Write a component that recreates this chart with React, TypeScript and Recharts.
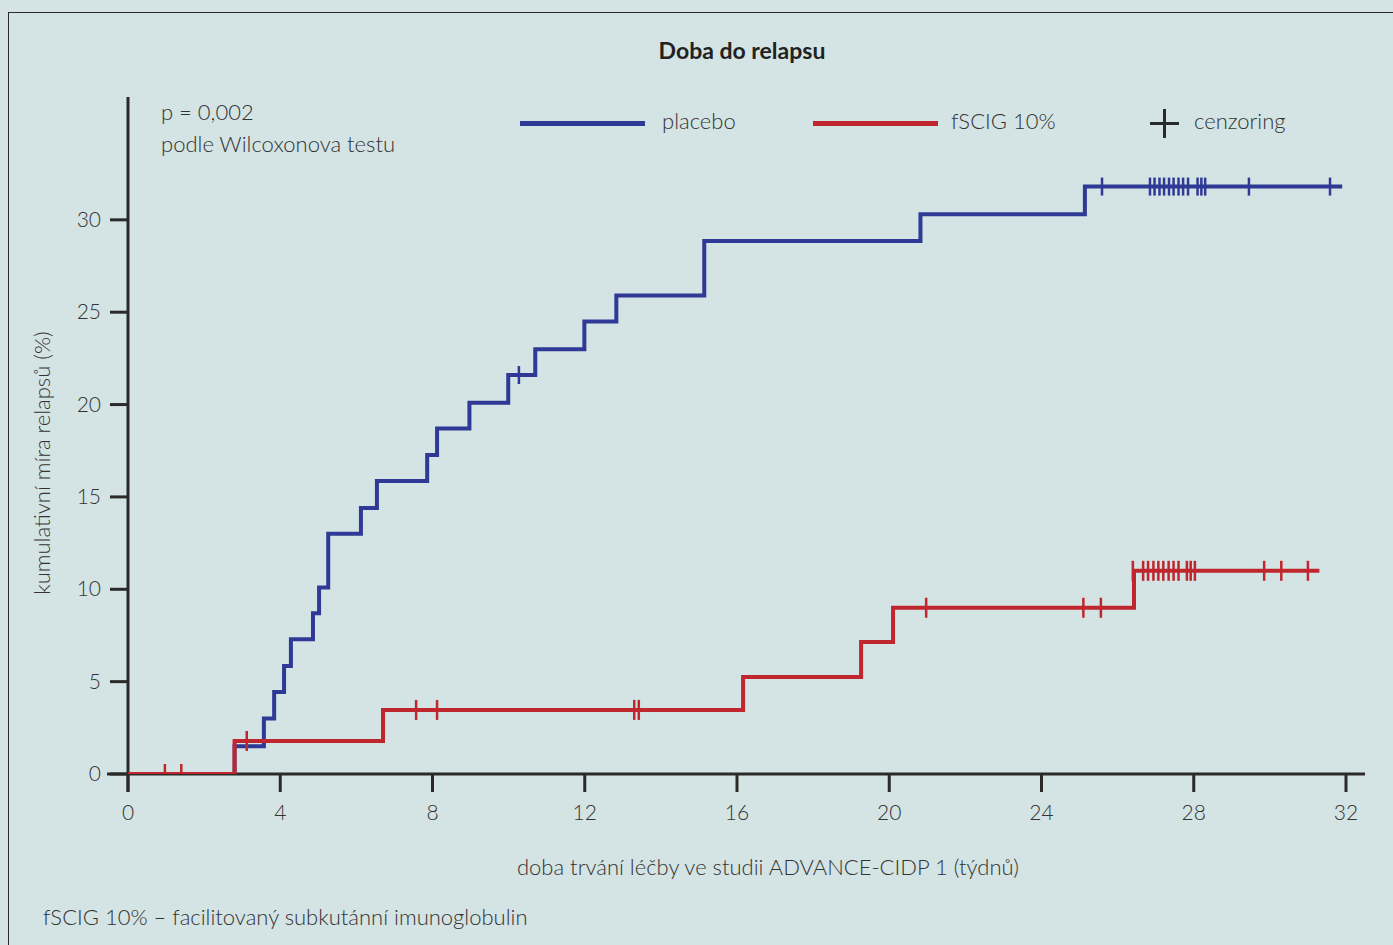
import React from "react";
import {
  ComposedChart,
  Line,
  Scatter,
  XAxis,
  YAxis,
  ReferenceLine,
} from "recharts";

const placeboSteps = [
  { t: 0, y: 0 },
  { t: 2.8, y: 1.5 },
  { t: 3.57, y: 3.0 },
  { t: 3.84, y: 4.44 },
  { t: 4.1, y: 5.85 },
  { t: 4.28, y: 7.3 },
  { t: 4.86, y: 8.7 },
  { t: 5.02, y: 10.1 },
  { t: 5.26, y: 13.0 },
  { t: 6.12, y: 14.4 },
  { t: 6.54, y: 15.86 },
  { t: 7.86, y: 17.27 },
  { t: 8.12, y: 18.7 },
  { t: 8.97, y: 20.1 },
  { t: 9.99, y: 21.6 },
  { t: 10.7, y: 23.0 },
  { t: 11.99, y: 24.5 },
  { t: 12.83, y: 25.9 },
  { t: 15.14, y: 28.86 },
  { t: 20.82, y: 30.3 },
  { t: 25.14, y: 31.8 },
  { t: 31.9, y: 31.8 },
];

const fscigSteps = [
  { t: 0, y: 0 },
  { t: 2.8, y: 1.79 },
  { t: 6.7, y: 3.47 },
  { t: 16.16, y: 5.25 },
  { t: 19.26, y: 7.15 },
  { t: 20.1, y: 9.0 },
  { t: 26.43, y: 11.0 },
  { t: 31.3, y: 11.0 },
];

const placeboCensored = [
  { t: 10.27, y: 21.6 },
  { t: 25.59, y: 31.8 },
  { t: 26.85, y: 31.8 },
  { t: 26.97, y: 31.8 },
  { t: 27.1, y: 31.8 },
  { t: 27.22, y: 31.8 },
  { t: 27.35, y: 31.8 },
  { t: 27.47, y: 31.8 },
  { t: 27.6, y: 31.8 },
  { t: 27.72, y: 31.8 },
  { t: 27.85, y: 31.8 },
  { t: 28.1, y: 31.8 },
  { t: 28.2, y: 31.8 },
  { t: 28.3, y: 31.8 },
  { t: 29.45, y: 31.8 },
  { t: 31.58, y: 31.8 },
];

const fscigCensored = [
  { t: 0.97, y: 0 },
  { t: 1.4, y: 0 },
  { t: 3.12, y: 1.79 },
  { t: 7.57, y: 3.47 },
  { t: 8.12, y: 3.47 },
  { t: 13.3, y: 3.47 },
  { t: 13.42, y: 3.47 },
  { t: 20.97, y: 9.0 },
  { t: 25.1, y: 9.0 },
  { t: 25.56, y: 9.0 },
  { t: 26.4, y: 11.0 },
  { t: 26.67, y: 11.0 },
  { t: 26.8, y: 11.0 },
  { t: 26.94, y: 11.0 },
  { t: 27.07, y: 11.0 },
  { t: 27.2, y: 11.0 },
  { t: 27.34, y: 11.0 },
  { t: 27.47, y: 11.0 },
  { t: 27.6, y: 11.0 },
  { t: 27.82, y: 11.0 },
  { t: 27.92, y: 11.0 },
  { t: 28.03, y: 11.0 },
  { t: 29.85, y: 11.0 },
  { t: 30.3, y: 11.0 },
  { t: 31.0, y: 11.0 },
];

const xTicks = [0, 4, 8, 12, 16, 20, 24, 28, 32];
const yTicks = [0, 5, 10, 15, 20, 25, 30];

const BLUE = "#2f3996";
const RED = "#c0262d";
const AXIS = "#2a2a2a";
const TEXT = "#333333";
const BG = "#d4e3e3";
const FONT = "Lato, 'Open Sans', sans-serif";

const XTick = (props: any) => {
  const { x, payload } = props;
  return (
    <text x={x} y={820} textAnchor="middle" fontSize={21} fill={TEXT} fontFamily={FONT} fontWeight={300}>
      {payload.value}
    </text>
  );
};

const YTick = (props: any) => {
  const { y, payload } = props;
  return (
    <text x={101} y={y + 7} textAnchor="end" fontSize={21} fill={TEXT} fontFamily={FONT} fontWeight={300}>
      {payload.value}
    </text>
  );
};

const makeCensor = (color: string, half: number) => (props: any) => {
  const { cx, cy } = props;
  return <line x1={cx} y1={cy - half} x2={cx} y2={cy + half} stroke={color} strokeWidth={2.5} />;
};

const txt: React.CSSProperties = {
  position: "absolute",
  fontFamily: FONT,
  fontWeight: 300,
  fontSize: 22,
  color: TEXT,
  whiteSpace: "nowrap",
  lineHeight: 1,
};

export default function App() {
  return (
    <div style={{ position: "fixed", left: 0, top: 0, width: 1393, height: 945, background: BG, overflow: "hidden" }}>
      <div
        style={{
          position: "absolute",
          left: 8,
          top: 12,
          width: 1500,
          height: 1000,
          border: "1.5px solid #2a2a2a",
          boxSizing: "border-box",
        }}
      />
      <div style={{ ...txt, left: 742, top: 50, transform: "translate(-50%, -50%)", fontWeight: 700, fontSize: 23, color: "#222" }}>
        Doba do relapsu
      </div>
      <div style={{ ...txt, left: 161, top: 101 }}>p = 0,002</div>
      <div style={{ ...txt, left: 161, top: 133 }}>podle Wilcoxonova testu</div>

      <div style={{ position: "absolute", left: 520, top: 121, width: 125, height: 5, background: BLUE }} />
      <div style={{ ...txt, left: 662, top: 110 }}>placebo</div>
      <div style={{ position: "absolute", left: 813, top: 121, width: 125, height: 5, background: RED }} />
      <div style={{ ...txt, left: 951, top: 110 }}>fSCIG 10%</div>
      <div style={{ position: "absolute", left: 1150, top: 122, width: 29, height: 3, background: AXIS }} />
      <div style={{ position: "absolute", left: 1163, top: 109, width: 3, height: 29, background: AXIS }} />
      <div style={{ ...txt, left: 1194, top: 110 }}>cenzoring</div>

      <div
        style={{
          ...txt,
          left: 42,
          top: 463,
          transform: "translate(-50%, -50%) rotate(-90deg)",
        }}
      >
        kumulativní míra relapsů (%)
      </div>
      <div style={{ ...txt, left: 768, top: 867, transform: "translate(-50%, -50%)" }}>
        doba trvání léčby ve studii ADVANCE-CIDP 1 (týdnů)
      </div>
      <div style={{ ...txt, left: 43, top: 906 }}>
        fSCIG 10% – facilitovaný subkutánní imunoglobulin
      </div>

      <div style={{ position: "absolute", left: 0, top: 0 }}>
        <ComposedChart
          width={1393}
          height={945}
          margin={{ top: 97, right: 47, bottom: 131, left: 68 }}
        >
          <XAxis
            type="number"
            dataKey="t"
            domain={[0, 32]}
            ticks={xTicks}
            allowDataOverflow
            axisLine={false}
            tickSize={18}
            tickLine={{ stroke: AXIS, strokeWidth: 3 }}
            tick={<XTick />}
            height={40}
          />
          <YAxis
            type="number"
            dataKey="y"
            domain={[0, 36.65]}
            ticks={yTicks}
            allowDataOverflow
            axisLine={false}
            tickSize={18}
            tickLine={{ stroke: AXIS, strokeWidth: 3 }}
            tick={<YTick />}
            width={60}
          />
          <ReferenceLine
            segment={[{ x: -0.55, y: 0 }, { x: 32.5, y: 0 }]}
            stroke={AXIS}
            strokeWidth={3}
            ifOverflow="visible"
          />
          <ReferenceLine
            segment={[{ x: 0, y: -0.97 }, { x: 0, y: 36.65 }]}
            stroke={AXIS}
            strokeWidth={3}
            ifOverflow="visible"
          />
          <Line
            data={placeboSteps}
            dataKey="y"
            type="stepAfter"
            stroke={BLUE}
            strokeWidth={4}
            dot={false}
            isAnimationActive={false}
          />
          <Scatter
            data={placeboCensored}
            dataKey="y"
            shape={makeCensor(BLUE, 9)}
            isAnimationActive={false}
          />
          <Line
            data={fscigSteps}
            dataKey="y"
            type="stepAfter"
            stroke={RED}
            strokeWidth={4}
            dot={false}
            isAnimationActive={false}
          />
          <Scatter
            data={fscigCensored}
            dataKey="y"
            shape={makeCensor(RED, 10)}
            isAnimationActive={false}
          />
        </ComposedChart>
      </div>
    </div>
  );
}
